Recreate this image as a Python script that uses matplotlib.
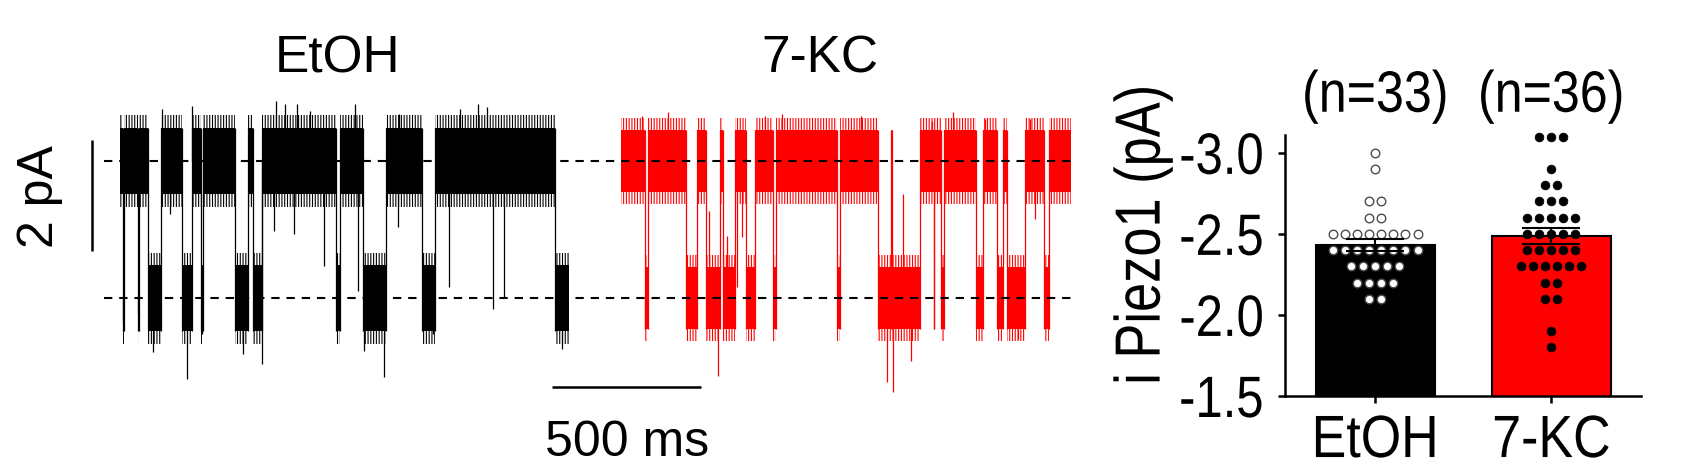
import numpy as np
import matplotlib.pyplot as plt
from matplotlib import patheffects
from matplotlib.transforms import Affine2D

# ---- single-channel traces ----
# times in ms from the start of each trace, currents in pA
OPEN_LEVEL = -2.47  # lower dashed line

etoh_duration = 1508
etoh_openings = [(10, 13), (59, 64), (95, 137), (207, 241), (272, 277), (386, 431),
                 (447, 475), (725, 738), (814, 893), (1012, 1057), (1460, 1508)]
# brief excursions beyond the noise band: (time, peak current)
etoh_spikes = [(11, -2.90), (61, -2.76), (110, -3.44), (168, -0.95), (226, -3.93),
               (274, -3.12), (412, -3.48), (475, -3.66), (517, -1.26), (584, -1.32),
               (686, -1.89), (798, -2.34), (819, -3.42), (886, -3.89), (933, -1.19),
               (1050, -3.12), (1104, -2.27), (1253, -2.67), (1289, -2.45), (1482, -3.39),
               (140, 0.94), (241, 0.99), (523, 1.08), (554, 1.03), (593, 1.03),
               (638, 0.90), (789, 1.03), (937, 0.85), (1141, 0.94), (1202, 1.03),
               (1230, 0.97)]

kc_duration = 1510
kc_openings = [(80, 92), (220, 256), (285, 334), (341, 383), (419, 450), (511, 522),
               (724, 735), (861, 906), (910, 1003), (1049, 1052), (1073, 1084),
               (1190, 1214), (1261, 1283), (1295, 1356), (1419, 1436)]
kc_spikes = [(81, -3.03), (295, -0.90), (326, -3.87), (356, -1.35), (390, -2.27),
             (405, -1.37), (892, -3.98), (912, -4.16), (946, -0.59), (975, -3.60),
             (1332, -3.21), (1389, -1.05), (69, 0.81), (158, 0.88), (483, 0.81),
             (539, 0.85), (805, 0.81), (1043, 0.72), (1115, 0.88), (1221, 0.76),
             (1372, 0.76)]

# ---- unitary current amplitudes (pA) ----
groups = ["EtOH", "7-KC"]
etoh_values = [-3.0, -2.9, -2.7, -2.7, -2.6, -2.6,
               -2.5, -2.5, -2.5, -2.5, -2.5, -2.5, -2.5, -2.5,
               -2.4, -2.4, -2.4, -2.4, -2.4, -2.4, -2.4, -2.4,
               -2.3, -2.3, -2.3, -2.3, -2.3,
               -2.2, -2.2, -2.2, -2.2, -2.1, -2.1]
kc_values = [-3.1, -3.1, -3.1, -2.9, -2.8, -2.8, -2.7, -2.7, -2.7,
             -2.6, -2.6, -2.6, -2.6, -2.6, -2.5, -2.5, -2.5, -2.5, -2.5,
             -2.4, -2.4, -2.4, -2.4, -2.4,
             -2.3, -2.3, -2.3, -2.3, -2.3, -2.3,
             -2.2, -2.2, -2.1, -2.1, -1.9, -1.8]
yticks = [-3.0, -2.5, -2.0, -1.5]

KC_OFFSET = 1681  # where the 7-KC trace starts on the shared time axis
ARIAL = ['Liberation Sans', 'DejaVu Sans']
plt.rcParams['hatch.linewidth'] = 0.8


class Narrow(patheffects.AbstractPathEffect):
    """Squeeze text horizontally (Arial Narrow look) about its centre or right edge."""

    def __init__(self, sx=0.84, anchor='center'):
        super().__init__()
        self.sx = sx
        self.anchor = anchor

    def draw_path(self, renderer, gc, tpath, affine, rgbFace=None):
        ext = tpath.get_extents()
        cx = ext.x1 if self.anchor == 'right' else (ext.x0 + ext.x1) / 2
        squeeze = Affine2D().translate(-cx, 0).scale(self.sx, 1).translate(cx, 0)
        renderer.draw_path(gc, tpath, squeeze + affine, rgbFace)


def level_at(t, openings):
    return OPEN_LEVEL if any(a <= t < b for a, b in openings) else 0.0


def draw_trace(ax, offset, duration, openings, spikes, color, core, fringe):
    bounds = [0] + [t for pair in openings for t in pair] + [duration]
    for i in range(len(bounds) - 1):
        a, b = bounds[i], bounds[i + 1]
        if b <= a:
            continue
        lvl = OPEN_LEVEL if i % 2 else 0.0
        # ragged noise fringe, then the dense core of the noise band
        ax.fill_between([offset + a, offset + b], lvl - fringe, lvl + fringe,
                        facecolor='none', edgecolor=color, hatch='||||||', lw=0)
        ax.fill_between([offset + a, offset + b], lvl - core, lvl + core,
                        color=color, lw=0)
    edges = [t for pair in openings for t in pair if 0 < t < duration]
    ax.vlines(np.array(edges) + offset, OPEN_LEVEL - core, core, color=color, lw=0.9)
    for t, v in spikes:
        ax.vlines(offset + t, level_at(t, openings), v, color=color, lw=0.9)


fig = plt.figure(figsize=(16.84, 4.77), dpi=100)

# ---------- traces ----------
tr = fig.add_axes([0, 0, 1100 / 1684, 1])
tr.set_xlim(-402.7, 3288.6)
tr.set_ylim(-5.676, 2.919)
tr.axis('off')

draw_trace(tr, 0, etoh_duration, etoh_openings, etoh_spikes, 'black', 0.6, 0.82)
draw_trace(tr, KC_OFFSET, kc_duration, kc_openings, kc_spikes, '#ff0000', 0.56, 0.78)

tr.hlines([0, OPEN_LEVEL], -54, 3205, colors='black', linestyles=(0, (4, 3.3)),
          lw=1.5, zorder=5)

# scale bars
tr.plot([-94, -94], [0.378, -1.622], color='black', lw=1.8, solid_capstyle='butt')
tr.text(-268, -0.63, "2 pA", rotation=90, ha='center', va='center', fontsize=36,
        family=ARIAL)
tr.plot([1450, 1950], [-4.07, -4.07], color='black', lw=1.8, solid_capstyle='butt')
tr.text(1700, -5.06, "500 ms", ha='center', va='center', fontsize=36, family=ARIAL)

tr.text(731, 1.856, "EtOH", ha='center', va='center', fontsize=37, family=ARIAL)
tr.text(2349, 1.856, "7-KC", ha='center', va='center', fontsize=37, family=ARIAL)

# ---------- bar chart ----------
ax = fig.add_axes([1285 / 1684, 1 - 397 / 477, (1641 - 1285) / 1684, (397 - 136) / 477])
data = [np.array(etoh_values), np.array(kc_values)]
means = [d.mean() for d in data]
sems = [d.std(ddof=1) / np.sqrt(len(d)) for d in data]
x = np.arange(len(groups))

ax.bar(x, means, width=0.674, color=['black', '#ff0000'], edgecolor='black',
       linewidth=1.5, zorder=1)

step = 0.0686
for i, d in enumerate(data):
    vals, counts = np.unique(d, return_counts=True)
    xs, ys = [], []
    for v, c in zip(vals, counts):
        xs += list(x[i] + (np.arange(c) - (c - 1) / 2) * step)
        ys += [v] * c
    if i == 0:
        ax.scatter(xs, ys, s=38, facecolor='white', edgecolor='#4d4d4d',
                   linewidths=1.0, zorder=3, clip_on=False)
    else:
        ax.scatter(xs, ys, s=40, facecolor='black', edgecolor='black',
                   linewidths=0.5, zorder=3, clip_on=False)

ax.errorbar(x, means, yerr=sems, fmt='none', ecolor='black', elinewidth=1.5,
            capsize=21, capthick=1.5, zorder=4)

ax.set_xlim(-0.513, 1.51)
ax.set_ylim(-1.5, -3.11)
ax.set_yticks(yticks)
ax.set_yticklabels(["%.1f" % v for v in yticks], fontsize=42, family=ARIAL)
ax.set_xticks(x)
ax.set_xticklabels(groups, fontsize=43, family=ARIAL)
for lbl in ax.get_yticklabels():
    lbl.set_path_effects([Narrow(anchor='right')])
for lbl in ax.get_xticklabels():
    lbl.set_path_effects([Narrow(0.87)])
for s in ['top', 'right']:
    ax.spines[s].set_visible(False)
for s in ['left', 'bottom']:
    ax.spines[s].set_linewidth(1.8)
ax.tick_params(axis='both', width=1.8, length=5, direction='out')
ax.tick_params(axis='y', pad=10)
ax.tick_params(axis='x', pad=8)

ax.text(-0.40, 0.617, "i Piezo1 (pA)", transform=ax.transAxes, rotation=90,
        ha='center', va='center', fontsize=46, family=ARIAL,
        path_effects=[Narrow(0.82)])
for i, d in enumerate(data):
    ax.text(x[i], -3.346, "(n=%d)" % len(d), ha='center', va='center', fontsize=42,
            family=ARIAL, clip_on=False, path_effects=[Narrow(0.86)])

fig.savefig('out.png', dpi=100)
